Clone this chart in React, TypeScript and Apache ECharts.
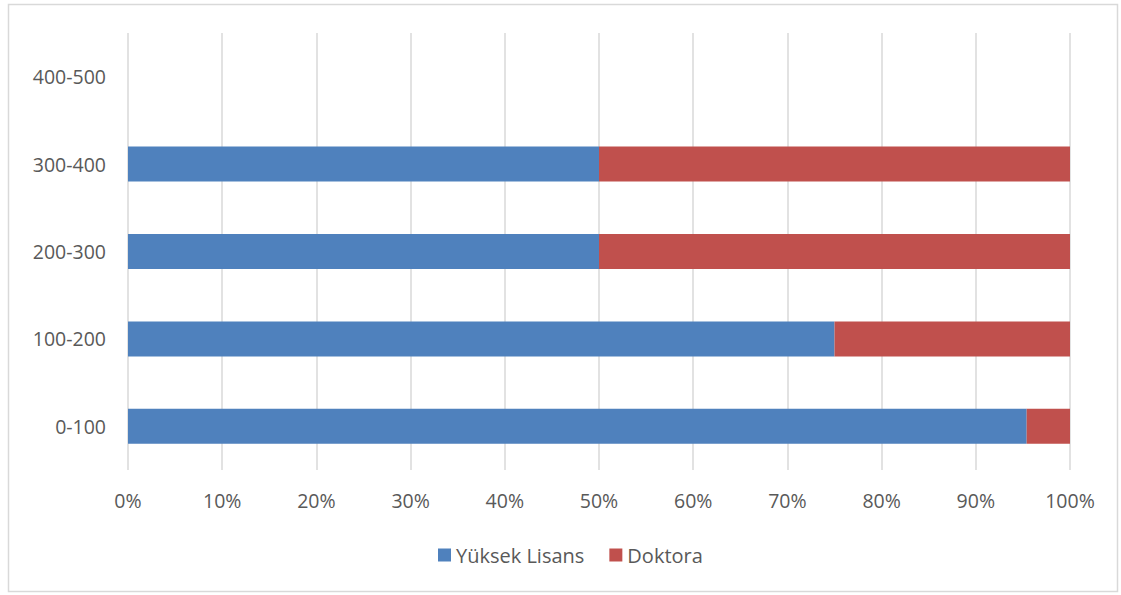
import React, { useEffect, useRef } from "react";
import * as echarts from "echarts";

const categories = ["0-100", "100-200", "200-300", "300-400", "400-500"];
const yuksekLisans = [95.4, 75, 50, 50, 0];
const doktora = [4.6, 25, 50, 50, 0];
const xTicks = [0, 10, 20, 30, 40, 50, 60, 70, 80, 90, 100];

export default function App() {
  const ref = useRef<HTMLDivElement>(null);
  useEffect(() => {
    if (!ref.current) return;
    const chart = echarts.init(ref.current, undefined, { renderer: "svg" });
    const font = "'Open Sans', 'Liberation Sans', sans-serif";
    chart.setOption({
      animation: false,
      backgroundColor: "#ffffff",
      textStyle: { fontFamily: font },
      graphic: [
        {
          type: "rect",
          shape: { x: 8.5, y: 4.5, width: 1109, height: 587 },
          style: { fill: "none", stroke: "#d9d9d9", lineWidth: 1.5 },
          silent: true,
        },
      ],
      grid: { left: 128, right: 51, top: 33, bottom: 125, containLabel: false },
      legend: {
        bottom: 25,
        left: 433,
        itemWidth: 13,
        itemHeight: 13,
        itemGap: 25,
        icon: "rect",
        textStyle: { color: "#595959", fontSize: 20, fontFamily: font },
        data: ["Yüksek Lisans", "Doktora"],
      },
      xAxis: {
        type: "value",
        min: 0,
        max: 100,
        interval: 10,
        axisLine: { show: false },
        axisTick: { show: false },
        splitLine: { show: true, lineStyle: { color: "#d9d9d9", width: 1.5 } },
        axisLabel: {
          color: "#595959",
          fontSize: 19.5,
          margin: 20,
          fontFamily: font,
          formatter: (v: number) => (xTicks.includes(v) ? v + "%" : ""),
        },
      },
      yAxis: {
        type: "category",
        data: categories,
        axisLine: { show: false },
        axisTick: { show: false },
        splitLine: { show: false },
        axisLabel: { color: "#595959", fontSize: 19.5, margin: 22, fontFamily: font },
      },
      series: [
        {
          name: "Yüksek Lisans",
          type: "bar",
          stack: "total",
          data: yuksekLisans,
          barWidth: "40%",
          itemStyle: { color: "#4f81bd" },
        },
        {
          name: "Doktora",
          type: "bar",
          stack: "total",
          data: doktora,
          barWidth: "40%",
          itemStyle: { color: "#c0504d" },
        },
      ],
    });
    return () => chart.dispose();
  }, []);
  return (
    <div
      ref={ref}
      style={{ position: "fixed", left: 0, top: 0, width: 1121, height: 595 }}
    />
  );
}
